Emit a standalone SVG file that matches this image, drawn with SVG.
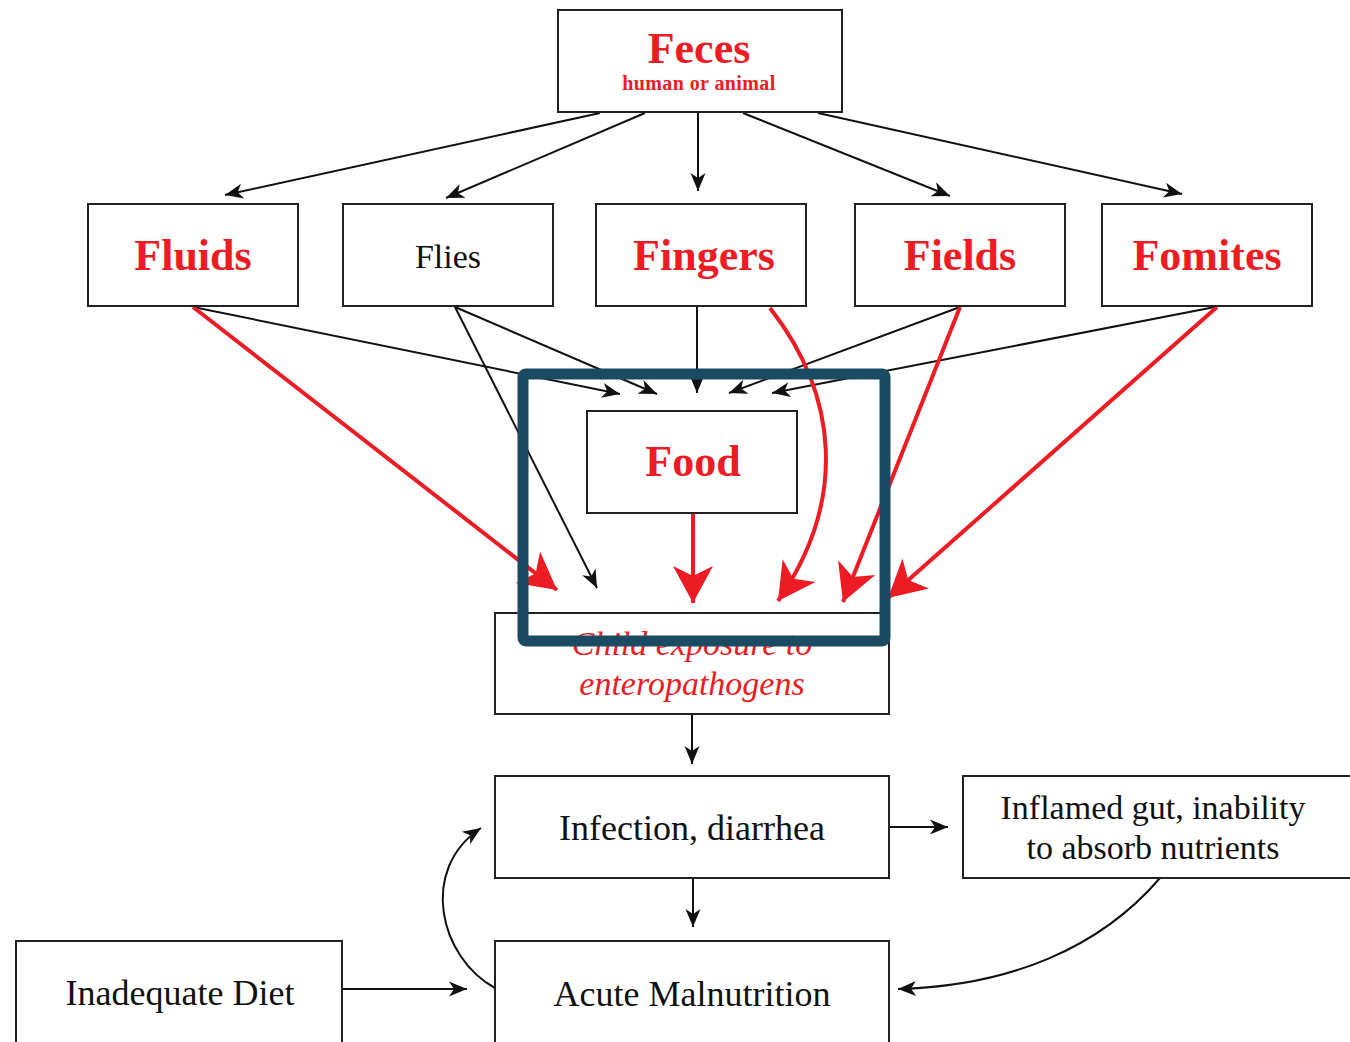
<svg xmlns="http://www.w3.org/2000/svg" width="1350" height="1042" viewBox="0 0 1350 1042">
<style>
.box{fill:#fff;stroke:#222;stroke-width:2}
.t{font-family:"Liberation Serif","Times New Roman",serif;text-anchor:middle}
.big{font-size:44px;font-weight:bold;fill:#ed1c24}
.reg{font-size:36px;fill:#111}
.bk{fill:none;stroke:#111;stroke-width:2}
.rd{fill:none;stroke:#ed1c24;stroke-width:4}
</style>
<defs>
<marker id="ab" markerUnits="userSpaceOnUse" markerWidth="24" markerHeight="24" viewBox="-20 -12 24 24" refX="0" refY="0" orient="auto" overflow="visible">
<path d="M0,0 L-18,-7.5 L-13,0 L-18,7.5 Z" fill="#111"/>
</marker>
<marker id="ar" markerUnits="userSpaceOnUse" markerWidth="50" markerHeight="50" viewBox="-45 -25 50 50" refX="0" refY="0" orient="auto" overflow="visible">
<path d="M0,0 L-37,-20 L-27,0 L-37,20 Z" fill="#ed1c24"/>
</marker>
</defs>
<rect width="1350" height="1042" fill="#fff"/>

<g id="connectors">
<path class="bk" d="M600,113 L225,195" marker-end="url(#ab)"/>
<path class="bk" d="M645,113 L446,198" marker-end="url(#ab)"/>
<path class="bk" d="M698,113 L698,191" marker-end="url(#ab)"/>
<path class="bk" d="M743,113 L950,196" marker-end="url(#ab)"/>
<path class="bk" d="M818,113 L1182,194" marker-end="url(#ab)"/>

<path class="bk" d="M193,307 L620,394" marker-end="url(#ab)"/>
<path class="bk" d="M455,307 L657,394" marker-end="url(#ab)"/>
<path class="bk" d="M697,307 L697,393" marker-end="url(#ab)"/>
<path class="bk" d="M960,307 L729,393" marker-end="url(#ab)"/>
<path class="bk" d="M1215,307 L772,393" marker-end="url(#ab)"/>
<path class="bk" d="M455,307 L597,588" marker-end="url(#ab)"/>

<path class="rd" d="M193,307 L557,590" marker-end="url(#ar)"/>
<path class="rd" d="M693,513 L693,603" marker-end="url(#ar)"/>
<path class="rd" d="M770,308 C838,395 848,500 778,601" marker-end="url(#ar)"/>
<path class="rd" d="M960,307 L843,602" marker-end="url(#ar)"/>
<path class="rd" d="M1217,307 L888,598" marker-end="url(#ar)"/>

<path class="bk" d="M692,714 L692,764" marker-end="url(#ab)"/>
<path class="bk" d="M889,827 L948,827" marker-end="url(#ab)"/>
<path class="bk" d="M693,878 L693,927" marker-end="url(#ab)"/>
<path class="bk" d="M342,989 L467,989" marker-end="url(#ab)"/>
<path class="bk" d="M495,988 C440,958 418,870 481,828" marker-end="url(#ab)"/>
<path class="bk" d="M1160,878 C1100,948 1010,986 898,989" marker-end="url(#ab)"/>
</g>

<g id="feces">
<rect class="box" x="558" y="10" width="284" height="102"/>
<text class="t big" x="699" y="63">Feces</text>
<text class="t" x="699" y="90" font-size="20" font-weight="bold" letter-spacing="0.4" fill="#ed1c24">human or animal</text>
</g>
<g id="fluids">
<rect class="box" x="88" y="204" width="210" height="102"/>
<text class="t big" x="193" y="270">Fluids</text>
</g>
<g id="flies">
<rect class="box" x="343" y="204" width="210" height="102"/>
<text class="t" x="448" y="268" font-size="34" fill="#111">Flies</text>
</g>
<g id="fingers">
<rect class="box" x="596" y="204" width="210" height="102"/>
<text class="t big" x="704" y="270">Fingers</text>
</g>
<g id="fields">
<rect class="box" x="855" y="204" width="210" height="102"/>
<text class="t big" x="960" y="270">Fields</text>
</g>
<g id="fomites">
<rect class="box" x="1102" y="204" width="210" height="102"/>
<text class="t big" x="1207" y="270">Fomites</text>
</g>
<g id="food">
<rect class="box" x="587" y="411" width="210" height="102"/>
<text class="t big" x="693" y="476">Food</text>
</g>
<g id="child-exposure">
<rect class="box" x="495" y="613" width="394" height="101"/>
<text class="t" x="692" y="655" font-size="34" font-style="italic" fill="#ed1c24">Child exposure to</text>
<text class="t" x="692" y="695" font-size="34" font-style="italic" fill="#ed1c24">enteropathogens</text>
</g>
<g id="infection">
<rect class="box" x="495" y="776" width="394" height="102"/>
<text class="t reg" x="692" y="840">Infection, diarrhea</text>
</g>
<g id="inflamed">
<rect class="box" x="963" y="776" width="400" height="102"/>
<text class="t" x="1153" y="819" font-size="34" fill="#111">Inflamed gut, inability</text>
<text class="t" x="1153" y="859" font-size="34" fill="#111">to absorb nutrients</text>
</g>
<g id="acute">
<rect class="box" x="495" y="941" width="394" height="110"/>
<text class="t reg" x="692" y="1006">Acute Malnutrition</text>
</g>
<g id="inadequate">
<rect class="box" x="16" y="941" width="326" height="110"/>
<text class="t reg" x="180" y="1005">Inadequate Diet</text>
</g>
<g id="highlight">
<rect x="523" y="374" width="362" height="267" rx="3" fill="none" stroke="#1b4a63" stroke-width="11"/>
</g>
</svg>
